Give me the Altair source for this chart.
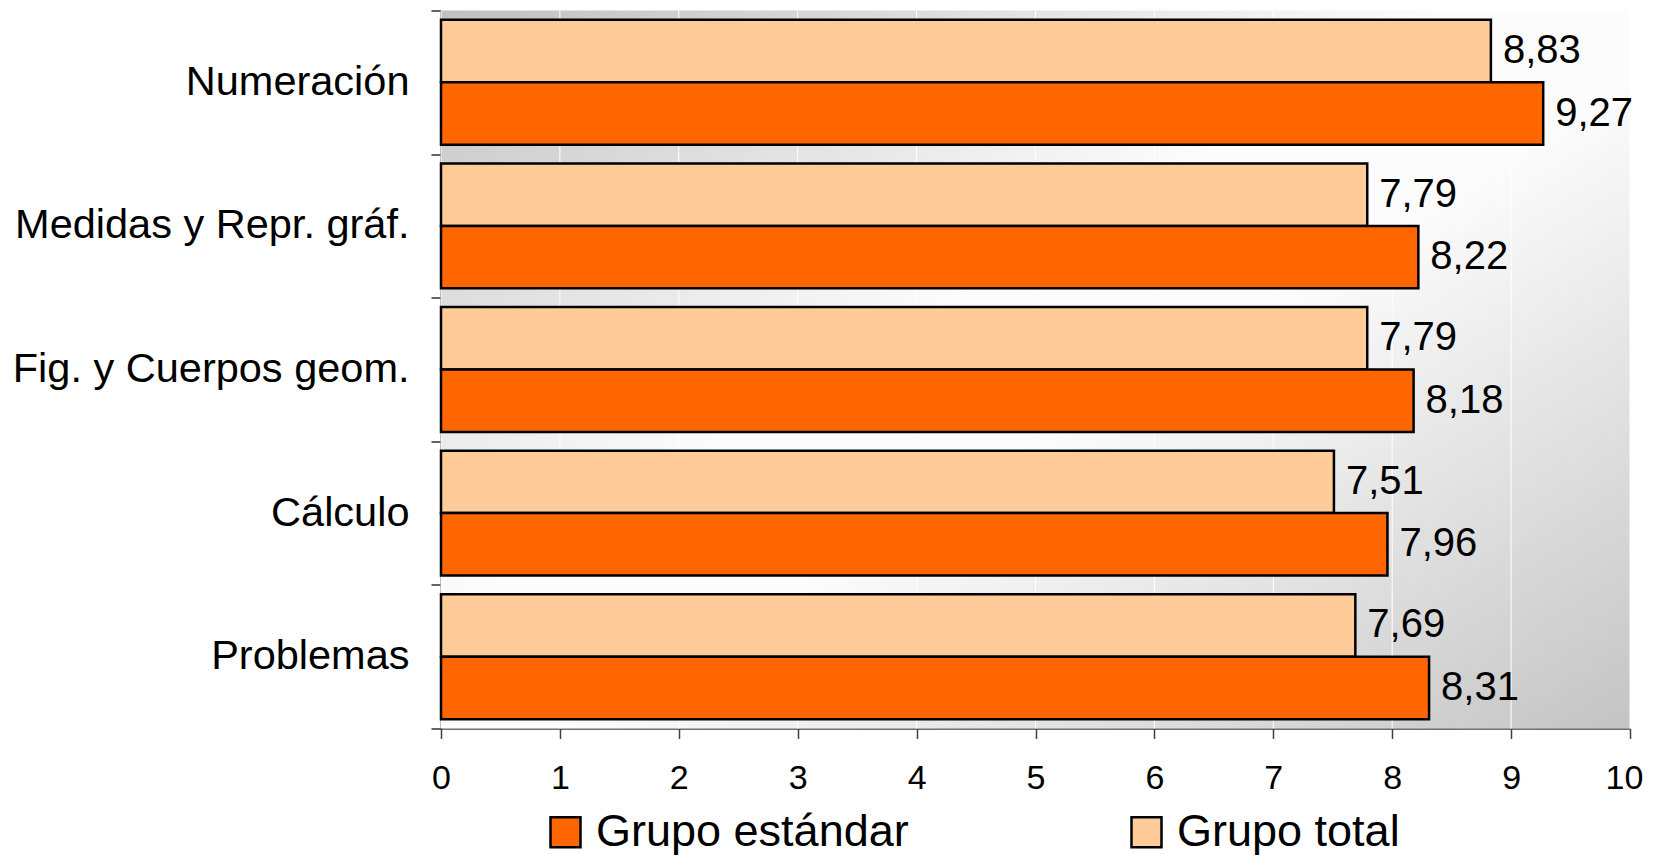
import altair as alt
import pandas as pd

categories = ["Numeración", "Medidas y Repr. gráf.", "Fig. y Cuerpos geom.", "Cálculo", "Problemas"]
grupo_total = [8.83, 7.79, 7.79, 7.51, 7.69]
grupo_estandar = [9.27, 8.22, 8.18, 7.96, 8.31]
series = ["Grupo estándar", "Grupo total"]
colors = ["#FF6600", "#FFCC99"]
x_ticks = list(range(0, 11))

rows = []
for c, t, e in zip(categories, grupo_total, grupo_estandar):
    rows.append({"cat": c, "serie": "Grupo total", "valor": t})
    rows.append({"cat": c, "serie": "Grupo estándar", "valor": e})
df = pd.DataFrame(rows)
df["etiqueta"] = df["valor"].map(lambda v: f"{v:.2f}".replace(".", ","))
grid_df = pd.DataFrame({"valor": x_ticks})

W, H = 1189, 718
FONT = "Liberation Sans"
x_scale = alt.Scale(domain=[0, 10], nice=False, zero=True)

y_enc = alt.Y(
    "cat:N",
    sort=categories,
    scale=alt.Scale(paddingInner=0, paddingOuter=0),
    axis=alt.Axis(
        title=None, tickBand="extent", labelFontSize=41.5, labelFont=FONT,
        labelColor="black", labelPadding=22, tickSize=10, tickColor="#303030",
        tickWidth=1.5, domainColor="black", domainWidth=2, labelLimit=600, grid=False,
    ),
)
yoff = alt.YOffset(
    "serie:N",
    sort=["Grupo total", "Grupo estándar"],
    scale=alt.Scale(paddingOuter=0.15, paddingInner=0),
)
x_enc = alt.X(
    "valor:Q",
    scale=x_scale,
    axis=alt.Axis(
        title=None, values=x_ticks, grid=False, labelFlush=False,
        labelOffset=alt.expr("datum.value == 10 ? -6 : 0"),
        labelFontSize=34, labelFont=FONT, labelColor="black", labelPadding=23,
        tickSize=10, tickColor="#404040", tickWidth=1.5, domainColor="#404040",
        domainWidth=1.5, format="d",
    ),
)

gradient = alt.Gradient(
    gradient="linear",
    x1=0, y1=0, x2=1, y2=1,
    stops=[
        alt.GradientStop(color="#c0c0c0", offset=0),
        alt.GradientStop(color="#fcfcfc", offset=0.42),
        alt.GradientStop(color="#fcfcfc", offset=0.55),
        alt.GradientStop(color="#c4c4c4", offset=1),
    ],
)

bg = alt.Chart(pd.DataFrame({"a": [0]})).mark_rect(fill=gradient, strokeWidth=0).encode(
    x=alt.value(0), x2=alt.value(W), y=alt.value(0), y2=alt.value(H)
)

grid = alt.Chart(grid_df).mark_rule(color="white", strokeWidth=1).encode(
    x=alt.X("valor:Q", scale=x_scale),
    y=alt.value(0),
    y2=alt.value(H),
)

bars = alt.Chart(df).mark_bar(stroke="black", strokeWidth=2.5).encode(
    x=x_enc,
    y=y_enc,
    yOffset=yoff,
    color=alt.Color(
        "serie:N",
        scale=alt.Scale(domain=series, range=colors),
        legend=alt.Legend(
            title=None, orient="none", legendX=102, legendY=799,
            direction="horizontal", symbolType="square", symbolSize=900,
            symbolStrokeColor="black", symbolStrokeWidth=2.5,
            labelFontSize=45, labelFont=FONT, labelColor="black",
            labelOffset=8, columnPadding=215, padding=0, labelLimit=600,
        ),
    ),
)

labels = alt.Chart(df).mark_text(
    align="left", baseline="middle", dx=12, fontSize=40, font=FONT, color="black"
).encode(
    x=alt.X("valor:Q"),
    y=alt.Y("cat:N", sort=categories),
    yOffset=alt.YOffset("serie:N", sort=["Grupo total", "Grupo estándar"]),
    text="etiqueta:N",
)

chart = (
    alt.layer(bg, grid, bars, labels)
    .properties(
        width=W, height=H,
        autosize=alt.AutoSizeParams(type="none"),
        padding={"left": 433, "top": 2.5, "right": 16, "bottom": 128.5},
        background="white",
    )
    .configure_view(strokeWidth=0)
)

chart.save("out.html", embed_options={"renderer": "svg", "actions": False})
